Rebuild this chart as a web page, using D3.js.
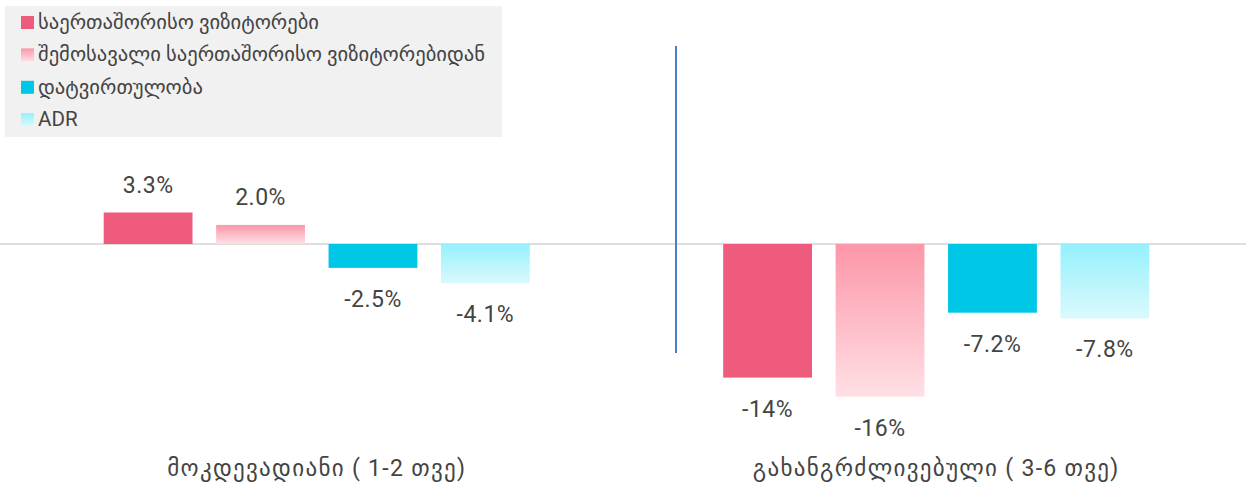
<!DOCTYPE html>
<html>
<head>
<meta charset="utf-8">
<script src="https://cdn.jsdelivr.net/npm/d3@7"></script>
<style>
  body { margin: 0; background: #fff; }
  svg text { font-family: Roboto, "DejaVu Sans", sans-serif; fill: #444; }
</style>
</head>
<body>
<div id="chart"></div>
<script>
var groups = ["მოკდევადიანი ( 1-2 თვე)", "გახანგრძლივებული ( 3-6 თვე)"];
var seriesNames = ["საერთაშორისო ვიზიტორები", "შემოსავალი საერთაშორისო ვიზიტორებიდან", "დატვირთულობა", "ADR"];
var shortTerm = [3.3, 2.0, -2.5, -4.1];
var longTerm = [-14, -16, -7.2, -7.8];
var valueLabels = [["3.3%", "2.0%", "-2.5%", "-4.1%"], ["-14%", "-16%", "-7.2%", "-7.8%"]];

var width = 1246, height = 486;

var svg = d3.select("#chart").append("svg")
    .attr("width", width)
    .attr("height", height);

var defs = svg.append("defs");
function grad(id, top, bottom) {
    var g = defs.append("linearGradient").attr("id", id)
        .attr("x1", 0).attr("y1", 0).attr("x2", 0).attr("y2", 1);
    g.append("stop").attr("offset", "0%").attr("stop-color", top);
    g.append("stop").attr("offset", "100%").attr("stop-color", bottom);
}
grad("g-pink", "#fc96a8", "#ffe0e5");
grad("g-cyan", "#94f1fc", "#dbf9fd");
var fills = ["#ef5b7d", "url(#g-pink)", "#00c7e6", "url(#g-cyan)"];

var x0 = d3.scaleBand().domain(groups).range([7, 1246]);
var x1 = d3.scaleBand().domain(d3.range(4)).range([0, x0.bandwidth()])
    .paddingInner(0.21).paddingOuter(0.86);
var y = d3.scaleLinear().domain([0, -16]).range([244, 396.7]);

var data = [shortTerm, longTerm];

// zero line
svg.append("line")
    .attr("x1", 0).attr("x2", width)
    .attr("y1", y(0)).attr("y2", y(0))
    .style("stroke", "#dedede")
    .style("stroke-width", 2);

// divider
svg.append("line")
    .attr("x1", 676).attr("x2", 676)
    .attr("y1", 46).attr("y2", 353)
    .style("stroke", "#4a7fc4")
    .style("stroke-width", 2);

var g = svg.selectAll(".grp")
    .data(groups)
    .enter().append("g")
    .attr("class", "grp")
    .attr("transform", function (d) { return "translate(" + x0(d) + ",0)"; });

g.selectAll("rect")
    .data(function (d, i) { return data[i].map(function (v, j) { return {v: v, j: j}; }); })
    .enter().append("rect")
    .attr("x", function (d) { return x1(d.j); })
    .attr("width", x1.bandwidth())
    .attr("y", function (d) { return Math.min(y(d.v), y(0)); })
    .attr("height", function (d) { return Math.abs(y(d.v) - y(0)); })
    .style("fill", function (d) { return fills[d.j]; });

g.selectAll(".val")
    .data(function (d, i) { return data[i].map(function (v, j) { return {v: v, j: j, t: valueLabels[i][j]}; }); })
    .enter().append("text")
    .attr("class", "val")
    .attr("x", function (d) { return x1(d.j) + x1.bandwidth() / 2; })
    .attr("y", function (d) { return d.v >= 0 ? y(d.v) - 20 : y(d.v) + 39; })
    .attr("text-anchor", "middle")
    .style("font-size", "23px")
    .style("letter-spacing", "0.5px")
    .text(function (d) { return d.t; });

g.append("text")
    .attr("x", x0.bandwidth() / 2)
    .attr("y", 476)
    .attr("text-anchor", "middle")
    .style("font-size", "23px")
    .style("letter-spacing", "1.3px")
    .text(function (d) { return d; });

// legend
var legend = svg.append("g");
legend.append("rect")
    .attr("x", 5).attr("y", 6)
    .attr("width", 497).attr("height", 131)
    .style("fill", "#f1f1f1");

var item = legend.selectAll(".item")
    .data(seriesNames)
    .enter().append("g")
    .attr("class", "item")
    .attr("transform", function (d, i) { return "translate(21," + (16 + i * 32.4) + ")"; });

item.append("rect")
    .attr("width", 13).attr("height", 13)
    .style("fill", function (d, i) { return fills[i]; });

item.append("text")
    .attr("x", 17)
    .attr("y", 13)
    .style("font-size", "20.6px")
    .text(function (d) { return d; });
</script>
</body>
</html>
